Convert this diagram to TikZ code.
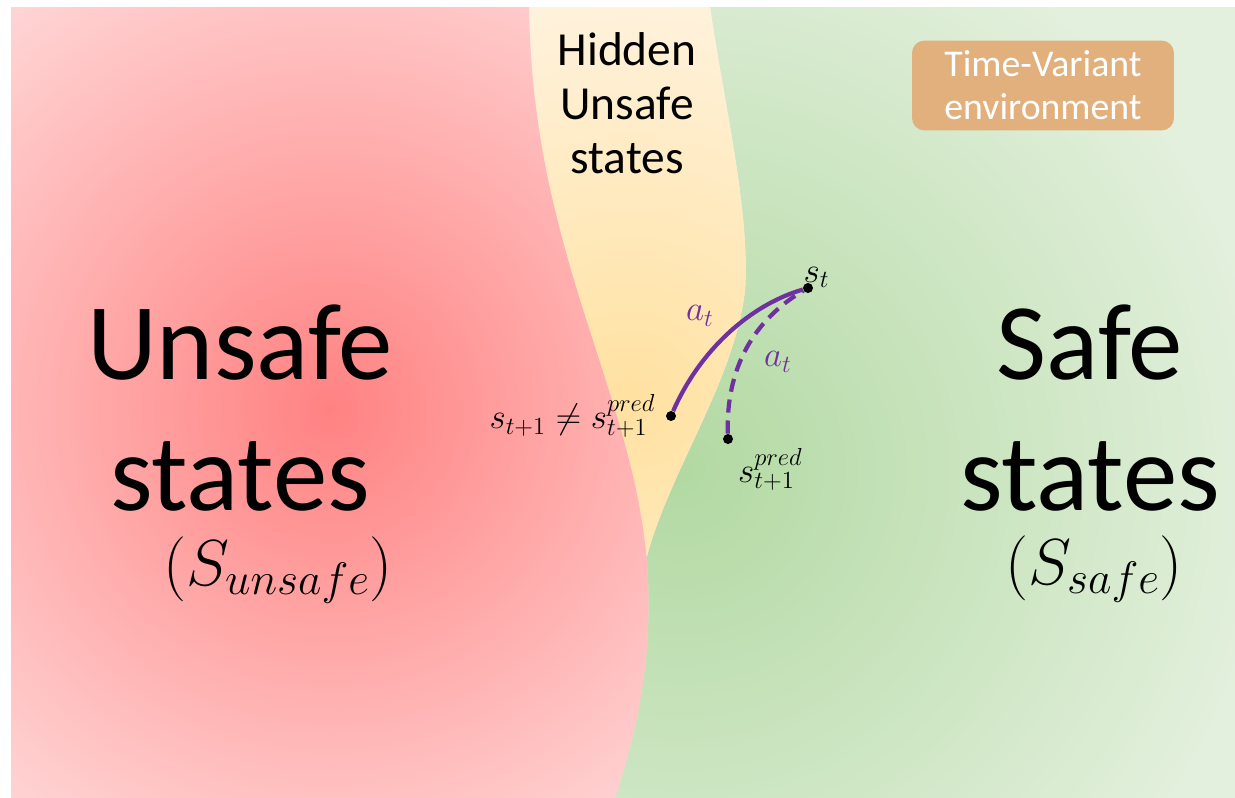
\RequirePackage{fix-cm}
\documentclass[tikz,border=0pt]{standalone}
\usepackage[no-math]{fontspec}
\setmainfont{Carlito}
\usepackage{tikz}
\usetikzlibrary{positioning}
\definecolor{redcore}{RGB}{255,130,130}
\definecolor{redrim}{RGB}{255,214,214}
\definecolor{greencore}{RGB}{178,217,162}
\definecolor{greenrim}{RGB}{227,240,221}
\definecolor{sandcore}{RGB}{255,225,160}
\definecolor{sandrim}{RGB}{255,242,220}
\definecolor{boxtan}{RGB}{226,176,124}
\definecolor{actpurple}{RGB}{112,48,160}
\tikzset{dot/.style={circle, fill=black, inner sep=0pt, minimum size=0.2cm}, bigtxt/.style={font=\fontsize{62}{74.5}\selectfont, align=center, inner sep=0pt}, midtxt/.style={font=\fontsize{27}{30.6}\selectfont, align=center, inner sep=0pt}, setname/.style={font=\fontsize{37}{40}\selectfont, inner sep=0pt}, lbl/.style={font=\fontsize{20}{22}\selectfont, inner sep=0pt}, albl/.style={font=\fontsize{20}{22}\selectfont, text=actpurple, inner sep=0pt}, envbox/.style={fill=boxtan, rounded corners=0.25cm, minimum width=5.24cm, minimum height=1.8cm, text=white, align=center, font=\fontsize{21.5}{24.4}\selectfont}, act/.style={actpurple, line width=2.4pt}, dact/.style={act, dash pattern=on 7.5pt off 4.5pt}}

\begin{document}
\begin{tikzpicture}[x=0.02cm, y=-0.02cm]
\useasboundingbox (0,0) rectangle (1235,798);
% safe side
\begin{scope}
\clip (11,7) rectangle (1235,798);
\fill[greenrim] (11,7) rectangle (1235,798);
\shade[inner color=greencore, outer color=greenrim] (680,470) circle (600);
\end{scope}
% hidden unsafe strip
\begin{scope}
\clip (450,7) -- (710,7) .. controls (725,110) and (750,210) .. (745,290) .. controls (735,380) and (670,470) .. (647,556) -- (450,556) -- cycle;
\fill[sandrim] (450,7) rectangle (760,560);
\shade[inner color=sandcore, outer color=sandrim] (630,400) circle (400);
\end{scope}
% unsafe side
\begin{scope}
\clip (11,7) -- (529,7) .. controls (532,260) and (640,400) .. (648,580) .. controls (652,680) and (630,750) .. (615,798) -- (11,798) -- cycle;
\fill[redrim] (11,7) rectangle (660,798);
\shade[inner color=redcore, outer color=redrim] (330,410) circle (520);
\end{scope}
\node[bigtxt] (unsafe) at (240,408) {Unsafe\\states};
\node[setname] (sunsafe) at (278,570) {$(S_{unsafe})$};
\node[bigtxt] (safe) at (1090,408) {Safe\\states};
\node[setname] (ssafe) at (1094,569) {$(S_{safe})$};
\node[midtxt] (hidden) at (627,103) {Hidden\\Unsafe\\states};
\node[envbox] (env) at (1043,85.5) {Time-Variant\\environment};
% states and actions
\node[dot] (st) at (808,288) {};
\node[dot] (snext) at (671,416) {};
\node[dot] (spred) at (728,439) {};
\draw[act] (snext) .. controls (700,350) and (750,305) .. (st);
\draw[dact] (spred) .. controls (726,380) and (745,325) .. (st);
\node[lbl, above right=-0.07cm and -0.17cm of st] (stlbl) {$s_t$};
\node[lbl, left=0.2cm of snext] (neqlbl) {$s_{t+1} \neq s_{t+1}^{pred}$};
\node[lbl, below right=0.1cm and 0.12cm of spred] (predlbl) {$s_{t+1}^{pred}$};
\node[albl] (asolid) at (700,316) {$a_t$};
\node[albl] (adash) at (778,362) {$a_t$};
\end{tikzpicture}
\end{document}
